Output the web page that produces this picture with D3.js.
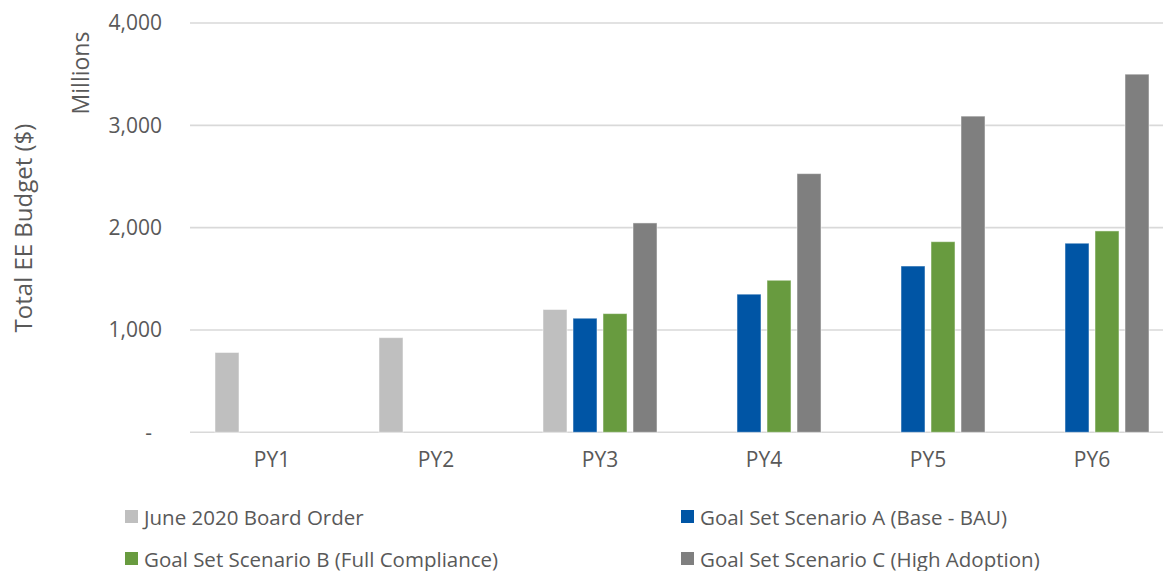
<!DOCTYPE html>
<html>
<head>
<meta charset="utf-8">
<script src="https://cdn.jsdelivr.net/npm/d3@7"></script>
<style>
  html, body { margin: 0; padding: 0; background: #fff; }
  svg { display: block; }
  text { font-family: "Open Sans", sans-serif; fill: #595959; }
</style>
</head>
<body>
<svg id="chart" width="1163" height="571"></svg>
<script>
const categories = ["PY1", "PY2", "PY3", "PY4", "PY5", "PY6"];
const seriesNames = [
  "June 2020 Board Order",
  "Goal Set Scenario A (Base - BAU)",
  "Goal Set Scenario B (Full Compliance)",
  "Goal Set Scenario C (High Adoption)"
];
const juneBoardOrder = [780, 925, 1200, null, null, null];
const scenarioA = [null, null, 1115, 1350, 1625, 1848];
const scenarioB = [null, null, 1160, 1486, 1863, 1968];
const scenarioC = [null, null, 2046, 2528, 3090, 3500];
const yTicks = [0, 1000, 2000, 3000, 4000];
const colors = ["#BFBFBF", "#0055A5", "#689B3F", "#7F7F7F"];

const allSeries = [juneBoardOrder, scenarioA, scenarioB, scenarioC];
const svg = d3.select("#chart");

const x = d3.scaleBand().domain(categories).range([190, 1174]).padding(0);
const xInner = d3.scaleBand().domain(d3.range(4)).range([0, x.bandwidth()])
  .paddingInner(0.2).paddingOuter(0.833);
const y = d3.scaleLinear().domain([0, 4000]).range([432.3, 23]);

// gridlines
svg.append("g").selectAll("line").data(yTicks).join("line")
  .attr("x1", 190).attr("x2", 1174)
  .attr("y1", d => y(d)).attr("y2", d => y(d))
  .attr("stroke", "#D9D9D9").attr("stroke-width", 1.6);

// y axis labels
const yAxis = d3.axisLeft(y).tickValues(yTicks).tickSize(0).tickPadding(0)
  .tickFormat(d => d === 0 ? "-" : d3.format(",")(d));
const yg = svg.append("g").attr("transform", "translate(162,0)").call(yAxis);
yg.select(".domain").remove();
yg.selectAll("text").attr("font-size", 21).attr("fill", "#595959")
  .attr("font-family", "Open Sans")
  .attr("dx", d => d === 0 ? -10 : 0);

// x axis labels
const xAxis = d3.axisBottom(x).tickSize(0).tickPadding(0);
const xg = svg.append("g").attr("transform", "translate(0,452)").call(xAxis);
xg.select(".domain").remove();
xg.selectAll("text").attr("font-size", 21).attr("fill", "#595959")
  .attr("font-family", "Open Sans");

// bars
const barData = [];
categories.forEach((c, i) => {
  allSeries.forEach((s, k) => {
    if (s[i] != null) barData.push({cat: c, k: k, v: s[i]});
  });
});
svg.append("g").selectAll("rect").data(barData).join("rect")
  .attr("x", d => x(d.cat) + xInner(d.k))
  .attr("width", xInner.bandwidth())
  .attr("y", d => y(d.v))
  .attr("height", d => y(0) - y(d.v))
  .attr("fill", d => colors[d.k])
  .attr("stroke", "rgba(255,255,255,0.5)").attr("stroke-width", 1);

// axis titles
svg.append("text")
  .attr("transform", "translate(22,228) rotate(-90)")
  .attr("text-anchor", "middle").attr("dominant-baseline", "central")
  .attr("font-size", 24).text("Total EE Budget ($)");
svg.append("text")
  .attr("transform", "translate(80,73) rotate(-90)")
  .attr("text-anchor", "middle").attr("dominant-baseline", "central")
  .attr("font-size", 23).text("Millions");

// legend
const legendPos = [[125, 510], [681, 510], [125, 552], [681, 552]];
const lg = svg.append("g");
seriesNames.forEach((name, k) => {
  const [lx, ly] = legendPos[k];
  lg.append("rect").attr("x", lx).attr("y", ly).attr("width", 13).attr("height", 13)
    .attr("fill", colors[k]);
  lg.append("text").attr("x", lx + 19).attr("y", ly + 6.5)
    .attr("dominant-baseline", "central").attr("font-size", 20.5).text(name);
});
</script>
</body>
</html>
